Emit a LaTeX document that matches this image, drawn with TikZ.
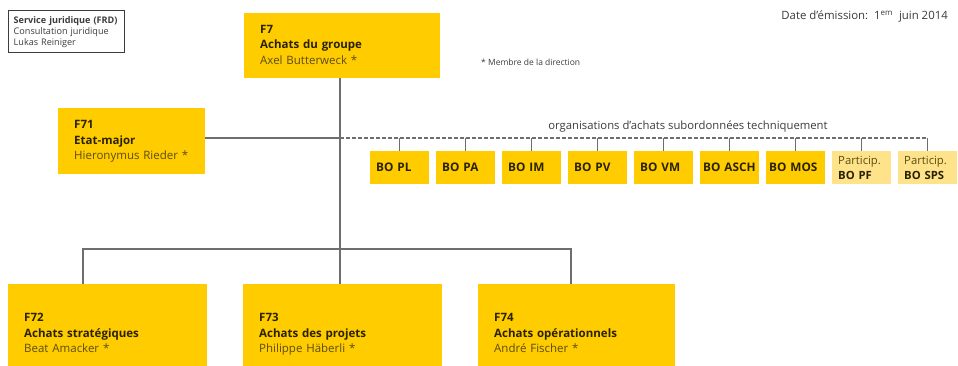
\documentclass[tikz,border=0pt]{standalone}
\usepackage{fontspec}
\setmainfont{Open Sans}
\definecolor{pyellow}{HTML}{FFCC00}
\definecolor{plight}{HTML}{FFE38A}
\definecolor{headtxt}{HTML}{2A2200}
\definecolor{nametxt}{HTML}{5A4C10}
\definecolor{linegray}{HTML}{6E6E6E}
\definecolor{txtgray}{HTML}{3C3C3C}
\tikzset{
  unitbox/.style={fill=pyellow, draw=none, anchor=north west, inner ysep=0pt, inner xsep=16pt,
    align=left, font=\fontsize{11.5}{15.5}\selectfont, text=headtxt},
  bobox/.style={fill=pyellow, draw=none, anchor=north west, inner ysep=0pt, inner xsep=6pt,
    minimum width=59pt, minimum height=33pt, text width=47pt, align=left,
    font=\bfseries\fontsize{11.8}{14}\selectfont, text=headtxt},
  partbox/.style={bobox, fill=plight},
  conn/.style={draw=linegray, line width=1.1pt},
  dconn/.style={draw=linegray, line width=1.1pt, dash pattern=on 4pt off 2pt},
  tick/.style={draw=linegray, line width=0.8pt},
}
\newcommand{\nm}[1]{{\color{nametxt}\mdseries #1}}
\newcommand{\unittext}[3]{\strut\textbf{#1}\\\textbf{#2}\\\nm{#3}\strut}
\begin{document}
\begin{tikzpicture}[x=1pt,y=-1pt]
\useasboundingbox (0,0) rectangle (958,365);
\clip (0,0) rectangle (958,365);
\fill[white] (0,0) rectangle (958,365);

% Legal box
\node[draw=txtgray, line width=1.4pt, anchor=north west, minimum width=114pt, minimum height=42pt,
  inner xsep=5pt, text width=106pt, align=left, font=\fontsize{9.1}{11}\selectfont, text=txtgray]
  (legal) at (8,10) {\textbf{Service juridique (FRD)}\\Consultation juridique\\Lukas Reiniger};

% Date
\node[anchor=east, font=\fontsize{11.4}{13}\selectfont, text=txtgray, inner sep=0pt]
  (date) at (948,16) {Date d'émission:\ \ 1\textsuperscript{em}\ \ juin 2014};

% Legend
\node[anchor=west, font=\fontsize{8.5}{10}\selectfont, text=txtgray, inner sep=0pt]
  (legend) at (481,62) {* Membre de la direction};

% Main boxes
\node[unitbox, minimum width=196pt, minimum height=65pt, text width=164pt] (F7) at (244,13)
  {\unittext{F7}{Achats du groupe}{Axel Butterweck *}};
\node[unitbox, minimum width=147pt, minimum height=66pt, text width=115pt] (F71) at (58,108)
  {\unittext{F71}{Etat-major}{Hieronymus Rieder *}};
\node[unitbox, minimum width=199pt, minimum height=100pt, text width=167pt] (F72) at (8,284)
  {\unittext{F72}{Achats stratégiques}{Beat Amacker *}};
\node[unitbox, minimum width=199pt, minimum height=100pt, text width=167pt] (F73) at (243,284)
  {\unittext{F73}{Achats des projets}{Philippe Häberli *}};
\node[unitbox, minimum width=197pt, minimum height=100pt, text width=165pt] (F74) at (478,284)
  {\unittext{F74}{Achats opérationnels}{André Fischer *}};

% BO boxes
\node[bobox] (BO1) at (370,151) {BO PL};
\node[bobox] (BO2) at (436,151) {BO PA};
\node[bobox] (BO3) at (502,151) {BO IM};
\node[bobox] (BO4) at (568,151) {BO PV};
\node[bobox] (BO5) at (634,151) {BO VM};
\node[bobox, inner xsep=3pt, text width=53pt] (BO6) at (700,151) {BO ASCH};
\node[bobox, inner xsep=3pt, text width=53pt] (BO7) at (766,151) {BO MOS};
\node[partbox, font=\fontsize{11.3}{14.5}\selectfont] (BO8) at (832,151) {\nm{Particip.}\\\textbf{BO PF}};
\node[partbox, font=\fontsize{11.3}{14.5}\selectfont] (BO9) at (898,151) {\nm{Particip.}\\\textbf{BO SPS}};

% Connectors
\coordinate (hub) at (340,138);
\coordinate (bus) at (340,249);
\coordinate (dend) at (BO9.north |- hub);
\coordinate (t72) at (83,284);
\coordinate (t73) at (340,284);
\coordinate (t74) at (571,284);
\draw[conn] (F7.south -| hub) -- (bus);
\draw[conn] (F71.east |- hub) -- (hub);
\draw[dconn] (hub) -- (dend);
\foreach \i in {1,...,9} {\draw[tick] (BO\i.north |- hub) -- (BO\i.north);}
\draw[conn] (t72) |- (bus) -| (t74);
\draw[conn] (bus) -- (t73);

\node[anchor=south, font=\fontsize{11.3}{13}\selectfont, text=txtgray, inner sep=0pt]
  (orglabel) at (688,132) {organisations d'achats subordonnées techniquement};
\end{tikzpicture}
\end{document}
